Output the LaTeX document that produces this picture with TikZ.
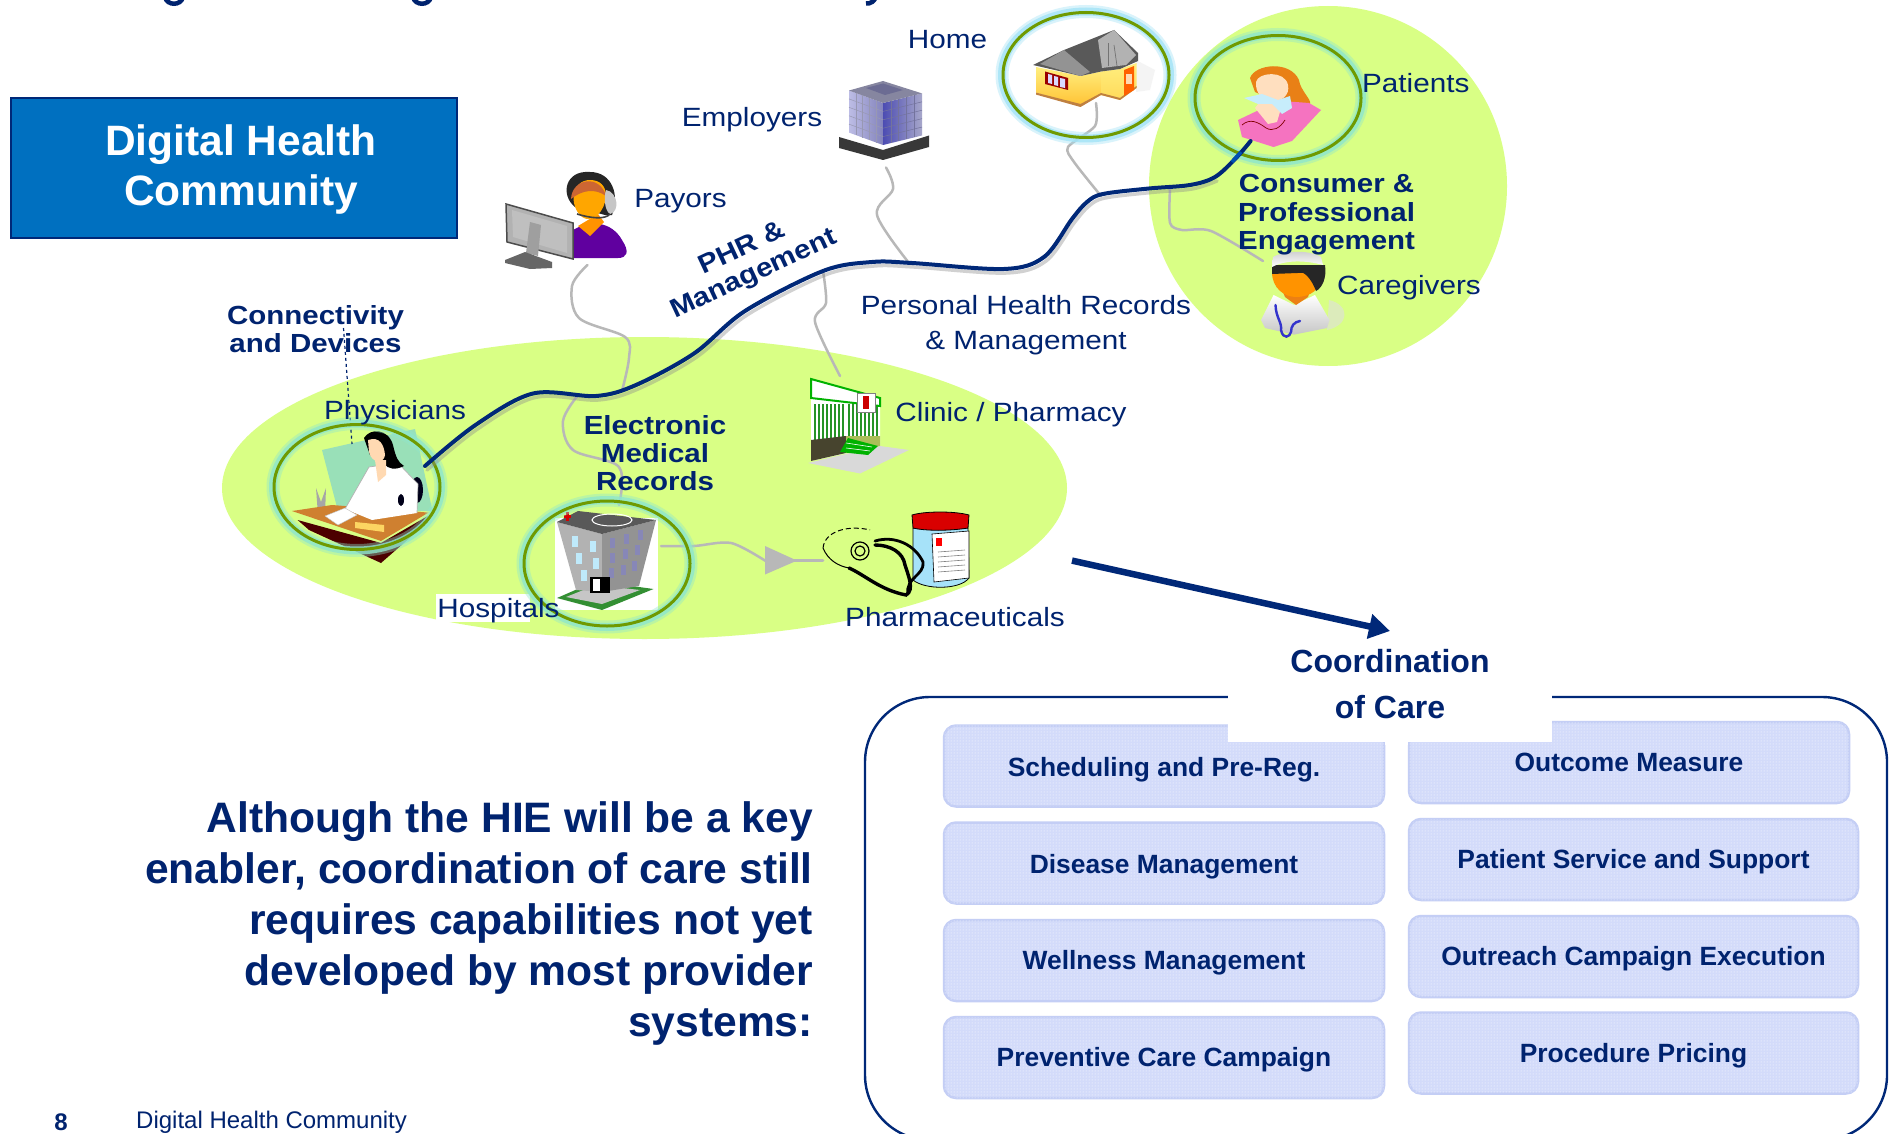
\documentclass[tikz,border=0pt]{standalone}
\usepackage{fontspec}
\setmainfont{Liberation Sans}
\newfontfamily\widefont[FakeStretch=1.125]{Liberation Sans}
\usetikzlibrary{shapes.geometric,patterns,arrows.meta,calc}
\definecolor{navy}{HTML}{00236F}
\definecolor{linenavy}{HTML}{002878}
\definecolor{limefill}{HTML}{D9FF85}
\definecolor{boxblue}{HTML}{0070C0}
\definecolor{wiregray}{HTML}{B8B8B8}
\definecolor{ringolive}{HTML}{6F9A00}
\definecolor{carefill}{HTML}{D3DBFA}
\definecolor{careedge}{HTML}{C4CEF5}
\definecolor{mintglow}{HTML}{8FE6CC}
\definecolor{skyglow}{HTML}{A2E3F6}
\tikzset{
  zone/.style={ellipse,fill=limefill,draw=none,inner sep=0pt},
  ringbase/.style={ellipse,draw=ringolive,line width=3pt,inner sep=0pt,minimum width=166pt,minimum height=125pt,fill=none},
  ringglow/.style={ellipse,draw=#1,line width=13pt,inner sep=0pt,minimum width=168pt,minimum height=127pt,fill=none,opacity=.4},
  ringcore/.style={ellipse,draw=#1,line width=8pt,inner sep=0pt,minimum width=168pt,minimum height=127pt,fill=none,opacity=.8},
  wire/.style={draw=wiregray,line width=2.5pt,line cap=round,line join=round},
  lbl/.style={text=navy,font=\widefont\fontsize{26.4}{35}\selectfont,inner sep=0pt,align=center},
  blbl/.style={text=navy,font=\widefont\bfseries\fontsize{26.2}{28.5}\selectfont,inner sep=0pt,align=center},
  carebox/.style={draw=careedge,line width=2.5pt,fill=carefill,rounded corners=12pt,inner sep=0pt,
    text=navy,font=\bfseries\fontsize{26.4}{30}\selectfont,minimum height=81pt,text height=24pt,text depth=5pt,
    postaction={pattern=dots,pattern color=white}},
}
\begin{document}
\begin{tikzpicture}[x=1pt,y=-1pt]
\useasboundingbox (0,0) rectangle (1889,1134);
\clip (0,0) rectangle (1889,1134);
\fill[white] (0,0) rectangle (1889,1134);

% clipped title descenders at the top edge
\draw[navy,line width=4.5pt] (165,-3) .. controls (167,6) and (181,6) .. (183,-3);
\draw[navy,line width=4.5pt] (413,-3) .. controls (415,6) and (429,6) .. (431,-3);
\draw[navy,line width=4.5pt] (866,3.5) .. controls (871,4) and (874,1) .. (876,-3);

% zones
\node[zone,minimum width=845pt,minimum height=302pt] (emrzone) at (644.5,488) {};
\node[zone,minimum width=358pt,minimum height=360pt] (consumerzone) at (1328,186) {};

% title box
\node[draw=linenavy,line width=2pt,fill=boxblue,minimum width=446pt,minimum height=139pt,inner sep=0pt] (title) at (233.5,168) {};
\node[text=white,font=\bfseries\fontsize{42.5}{50.5}\selectfont,align=center,inner sep=0pt] (titletext) at (241,169.5) {Digital Health\\Community};

% named ends of the connectors
\coordinate (curveA) at (425,466);
\coordinate (curveB) at (1250.6,141);
\coordinate (payorEnd) at (587.5,265);
\coordinate (payorJoin) at (622,391);
\coordinate (emplEnd) at (886,167.5);
\coordinate (emplJoin) at (909,263);
\coordinate (homeEnd) at (1096,103);
\coordinate (homeJoin) at (1101,196);
\coordinate (careEnd) at (1263,261);
\coordinate (careJoin) at (1170,188.5);
\coordinate (clinicEnd) at (840,376);
\coordinate (clinicJoin) at (823,271);
\coordinate (hospEnd) at (619,505);
\coordinate (hospJoin) at (578,395);
\coordinate (hospOut) at (661,546);
\coordinate (pharmIn) at (823,560.6);
\coordinate (triBase) at (765,560.6);
\coordinate (connTop) at (343.5,328);
\coordinate (connEnd) at (352,444);
\coordinate (flowA) at (1072,560.6);
\coordinate (flowB) at (1390,631);

% ---------- icons ----------
% employers building
\fill[black!78] (839,137) -- (883,150) -- (929,135.5) -- (929,147) -- (883,160) -- (839,148) -- cycle;
\shade[left color=blue!20!white!80!gray,right color=blue!30!gray!75] (849,90.5) -- (883,103) -- (883,145) -- (849,132.6) -- cycle;
\shade[left color=blue!40!gray,right color=blue!25!gray!55] (883,103) -- (922,93.4) -- (922,135.5) -- (883,145) -- cycle;
\fill[blue!12!gray!85] (849,90.5) -- (883,81) -- (922,93.4) -- (883,103) -- cycle;
\fill[blue!15!gray] (866,88) -- (883,83.5) -- (903,90) -- (885,95) -- cycle;
\foreach \t in {.2,.4,.6,.8}{
  \draw[blue!15!gray!70,line width=.5pt] ($(849,90.5)!\t!(849,132.6)$) -- ($(883,103)!\t!(883,145)$);
  \draw[blue!30!black!55,line width=.5pt] ($(883,103)!\t!(883,145)$) -- ($(922,93.4)!\t!(922,135.5)$);
  \draw[blue!15!gray!70,line width=.5pt] ($(849,90.5)!\t!(883,103)$) -- ($(849,132.6)!\t!(883,145)$);
  \draw[blue!30!black!55,line width=.5pt] ($(883,103)!\t!(922,93.4)$) -- ($(883,145)!\t!(922,135.5)$);
}
% payor
\fill[black!85] (575,207) .. controls (560,195) and (565,170) .. (590,172) .. controls (612,172) and (620,195) .. (612,215) -- (605,215) -- cycle;
\fill[violet!75!blue] (570,232) .. controls (590,218) and (612,222) .. (622,240) .. controls (630,252) and (627,258) .. (618,258) -- (572,258) -- cycle;
\fill[orange!85!yellow] (578,226) -- (598,214) -- (604,222) -- (590,236) -- cycle;
\fill[orange!70!yellow] (590,180) .. controls (572,180) and (568,205) .. (582,217) .. controls (592,224) and (605,212) .. (606,196) .. controls (606,186) and (600,180) .. (590,180) -- cycle;
\fill[brown!80!red] (571,199) .. controls (572,178) and (600,174) .. (606,196) .. controls (595,188) and (582,190) .. (571,199) -- cycle;
\fill[gray!45] (606,190) .. controls (618,192) and (620,212) .. (610,214) .. controls (604,210) and (604,196) .. (606,190) -- cycle;
\draw[black!75,line width=1.6pt] (610,214) .. controls (605,220) and (590,218) .. (577,214);
\fill[gray!60] (506,204) -- (573,223) -- (573,259) -- (507,242) -- cycle;
\draw[black!70,line width=1.5pt] (506,204) -- (573,223) -- (573,259) -- (507,242) -- cycle;
\fill[gray!50] (512,210) -- (567,226) -- (567,253) -- (513,237) -- cycle;
\fill[gray!75] (530,222) -- (541,225) -- (538,256) -- (526,253) -- cycle;
\fill[black!60] (505,260) -- (525,252) -- (552,262) -- (552,268) -- (530,269) -- (505,263) -- cycle;
% clinic
\fill[gray!30] (808,463) -- (860,473.5) -- (909,450) -- (880,446) -- cycle;
\fill[white] (811,398) -- (880,406) -- (880,446) -- (811,461) -- cycle;
\foreach \x in {814,818,822,826,830,834,838,842,848,852,856,860,864,868,872,876}{\fill[green!50!black!85] (\x,404) rectangle ++(1.8,36);}
\fill[black!65!olive] (811,440) -- (846,436) -- (846,453) -- (811,461) -- cycle;
\fill[olive!70!green!60] (846,436) -- (880,436) -- (880,446) -- (846,453) -- cycle;
\fill[green!70!black] (848,438) -- (878,446) -- (868,455) -- (840,452) -- cycle;
\draw[white,line width=.6pt] (846,443) -- (872,447);\draw[white,line width=.6pt] (846,448) -- (870,451);
\fill[white,draw=green!70!black,line width=2pt] (811,379) -- (880,398) -- (880,406) -- (811,398) -- cycle;
\fill[white,draw=gray,line width=.5pt] (857,393) rectangle (875,412);
\fill[red!80!black] (863,396) rectangle (869,409);
% physician
\fill[green!40!teal!40] (322,450) -- (415,429) -- (432.5,511) -- (338,511) -- cycle;
\fill[black!90!blue] (417,490) ellipse[x radius=6,y radius=13];
\fill[gray!70] (316,488) -- (321,502) -- (326,488) -- (325,515) -- (318,515) -- cycle;
\fill[red!30!black] (297.6,520) -- (381,543) -- (428.5,515.6) -- (428,522) -- (381,563) -- (309,530) -- cycle;
\fill[brown!75!orange] (292,511) -- (332,505) -- (428.5,512.6) -- (381,541) -- cycle;
\fill[white] (345,509) -- (369,467) -- (398,463) -- (418,484) -- (417,513) -- (372,520) -- cycle;
\draw[gray!60,line width=.7pt] (345,509) -- (369,467) -- (398,463) -- (418,484) -- (417,513);
\fill[black!90!blue] (401,500) ellipse[x radius=3,y radius=6];
\fill[black] (364,438) .. controls (370,428) and (388,428) .. (393,445) .. controls (396,458) and (398,462) .. (404,466) .. controls (396,470) and (388,470) .. (384,463) -- (370,455) -- cycle;
\fill[orange!30!white] (368,440) .. controls (380,436) and (384,445) .. (385,455) .. controls (384,464) and (372,464) .. (369,452) -- cycle;
\fill[orange!30!white] (375,460) -- (386,460) -- (386,475) -- (378,482) -- cycle;
\fill[white,draw=gray!50,line width=.4pt] (325,516) -- (345,508) -- (357,515) -- (338,525) -- cycle;
\fill[yellow!50!orange!60] (355,522) -- (384,525) -- (384,532) -- (355,528) -- cycle;
% hospital white backing and its picture
\fill[white] (436,594) rectangle (530,622);
\fill[white] (555,518) rectangle (658,610);
\fill[green!45!black!80] (557,598) -- (596,581) -- (653.5,589) -- (602,610) -- cycle;
\fill[gray!45] (566,597) -- (596,585) -- (640,590) -- (602,604) -- cycle;
\fill[gray!60] (557,522) -- (602,534) -- (602,592) -- (576,590) -- cycle;
\fill[gray!85] (602,534) -- (656,520) -- (639,586) -- (602,592) -- cycle;
\fill[black!65] (557,522) -- (578,511) -- (656,520) -- (602,534) -- cycle;
\draw[white,line width=1pt] (612,520) ellipse[x radius=20,y radius=6];
\foreach \xa/\ya in {572/536,590/541,576/553,593/558,581/570}{\fill[cyan!25!white] (\xa,\ya) rectangle ++(6,11);}
\foreach \xa/\ya in {610/538,624/534,638/530,610/553,623/549,635/545,609/568,621/565,632/561}{\fill[blue!25!gray!75] (\xa,\ya) rectangle ++(5,10);}
\fill[black] (590,577) rectangle (610,593);
\fill[white] (593,579) rectangle (600,591);
\fill[red!85!black] (564,515) rectangle (571,518);
\fill[red!85!black] (566,512) rectangle (569,521);
% pharmaceuticals
\fill[cyan!35!white,draw=black,line width=.8pt] (913,528) -- (968,528) -- (969,578) .. controls (960,590) and (925,590) .. (913,580) -- cycle;
\fill[red!85!black,draw=black,line width=.8pt] (912,515) .. controls (925,511) and (955,511) .. (969,515) -- (968,528) .. controls (950,531) and (925,531) .. (913,528) -- cycle;
\fill[white,draw=black,line width=.6pt] (932,534) -- (969,531) -- (969,578) -- (934,582) -- cycle;
\fill[red] (936,538) rectangle (942,546);
\foreach \yy in {552,557,562,567,572}{\draw[gray,line width=.6pt] (938,\yy) -- (965,\yy-2);}
\draw[black,line width=3.4pt,line cap=round] (849,568) .. controls (865,575) and (880,590) .. (906,595) .. controls (915,590) and (908,575) .. (905,565) .. controls (903,552) and (890,545) .. (875,545);
\draw[black,line width=2.8pt,line cap=round] (875,541) .. controls (895,535) and (915,545) .. (923,562) .. controls (925,575) and (905,578) .. (908,594);
\draw[black,line width=1.2pt] (860,551) circle[radius=9];
\draw[black,line width=1.2pt] (860,551) circle[radius=5];
\draw[black,line width=1pt,dash pattern=on 5pt off 3pt] (823,548) .. controls (825,530) and (850,525) .. (870,530);
\draw[black,line width=1pt] (823,548) .. controls (828,560) and (838,566) .. (849,568);
% house
\fill[gray!20,opacity=.4] (1136,60) -- (1155,70) -- (1150,90) -- (1136,92) -- cycle;
\shade[top color=orange!25!yellow!50,bottom color=orange!60!yellow!80] (1036,67) -- (1080.5,76) -- (1101,71.5) -- (1101,95) -- (1080.5,106) -- (1036,92.6) -- cycle;
\shade[top color=orange!25!yellow!50,bottom color=orange!45!yellow!65] (1101,71.5) -- (1120,69) -- (1136.5,63) -- (1136.5,88) -- (1120,100) -- (1101,95) -- cycle;
\fill[brown] (1036,92.6) -- (1080.5,104) -- (1101,93) -- (1120,98) -- (1136.5,86) -- (1136.5,88) -- (1120,100) -- (1101,95) -- (1080.5,107) -- (1036,94.6) -- cycle;
\fill[orange!75!red] (1124,70) -- (1134,66) -- (1134,90) -- (1124,96) -- cycle;
\fill[white!70!orange] (1126,74) rectangle (1132,84);
\fill[red!60!black] (1045,71.5) -- (1068,78) -- (1068,90) -- (1045,84) -- cycle;
\fill[white!85!blue] (1048,74) -- (1052,75) -- (1052,84) -- (1048,83) -- cycle;
\fill[white!85!blue] (1054,76) -- (1058,77) -- (1058,86) -- (1054,85) -- cycle;
\fill[white!85!blue] (1060,78) -- (1065,79) -- (1065,88) -- (1060,87) -- cycle;
\fill[black!65] (1033,65) -- (1064,50) -- (1114,30) -- (1138,53) -- (1138,61) -- (1120,69) -- (1101,71.5) -- (1080.5,76) -- cycle;
\fill[gray!85] (1064,50) -- (1090,72) -- (1080.5,76) -- (1040,64) -- cycle;
\fill[gray!60] (1098,40) -- (1114,30) -- (1136,55) -- (1126,65) -- (1102,68) -- cycle;
\draw[black!55,line width=.7pt] (1108,43) -- (1108,66);\draw[black!55,line width=.7pt] (1114,45) -- (1117,66);
% patient
\fill[orange!65!brown] (1250,78) .. controls (1255,64) and (1290,60) .. (1299,80) .. controls (1300,90) and (1312,100) .. (1310,104) -- (1285,105) -- (1255,92) -- cycle;
\fill[orange!25!white] (1256,82) .. controls (1258,72) and (1285,70) .. (1288,85) .. controls (1290,95) and (1282,102) .. (1270,102) .. controls (1262,100) and (1255,92) .. (1256,82) -- cycle;
\fill[magenta!55!white] (1238,120) -- (1259,110) -- (1282,101) -- (1309,103) -- (1321,110) -- (1292,141) -- (1273.5,147) -- (1242,137) -- cycle;
\fill[orange!25!white] (1255,108) -- (1262,99) -- (1282,105) -- (1277,122) -- (1268,124) -- cycle;
\fill[cyan!22!white] (1244,98) -- (1262,94) -- (1278,100) -- (1290,96) -- (1292,108) -- (1282,114) -- (1272,104) -- (1258,104) -- cycle;
\draw[red!50!black,line width=.7pt] (1242,125) .. controls (1250,118) and (1258,122) .. (1266,128) .. controls (1273,132) and (1280,128) .. (1285,120);
% caregiver
\fill[gray!25,opacity=.6] (1329,300) .. controls (1350,305) and (1350,325) .. (1327,330) -- cycle;
\shade[top color=white,bottom color=gray!45] (1261,320) -- (1273.5,295) -- (1294,305) -- (1315,295) -- (1329.5,320) -- (1327,328) -- (1294,334.6) -- (1265,328) -- cycle;
\fill[orange!70!brown] (1278,280) -- (1314,280) -- (1308,297) -- (1296,305) -- (1285,297) -- cycle;
\fill[orange!85!yellow] (1272,272) -- (1322,272) .. controls (1322,290) and (1310,297) .. (1296,297) .. controls (1284,297) and (1272,288) .. (1272,272) -- cycle;
\fill[black!85] (1300,265) -- (1325,265) .. controls (1327,278) and (1322,288) .. (1316,291) .. controls (1312,280) and (1305,272) .. (1300,272) -- cycle;
\fill[black!85] (1272,265) -- (1322,265) -- (1323,272) -- (1272,274) -- cycle;
\shade[top color=gray!40,bottom color=white] (1272,267) -- (1273,257) .. controls (1285,250) and (1310,250) .. (1321,257) -- (1323,265) .. controls (1305,260) and (1285,260) .. (1272,267) -- cycle;
\draw[blue!60!gray,line width=2.4pt,line cap=round] (1275.5,305) .. controls (1276,318) and (1282,322) .. (1281,330) .. controls (1283,340) and (1290,337) .. (1291,332) .. controls (1291,326) and (1294,322) .. (1300,321);

% ---------- connectors ----------
\draw[wire] plot[smooth,tension=.55] coordinates {(payorEnd) (572,286) (579,318) (625,337) (629,358) (payorJoin)};
\draw[wire] plot[smooth,tension=.55] coordinates {(emplEnd) (893,189) (877,215) (emplJoin)};
\draw[wire] plot[smooth,tension=.45] coordinates {(homeEnd) (1095,126) (1068,147) (1074,162) (homeJoin)};
\draw[wire] plot[smooth,tension=.45] coordinates {(careJoin) (1170,223) (1182,230) (1211,231) (careEnd)};
\draw[wire] plot[smooth,tension=.5] coordinates {(clinicJoin) (826,303) (815,322) (clinicEnd)};
\draw[wire] plot[smooth,tension=.55] coordinates {(hospJoin) (563,421) (573,450) (619,467) (hospEnd)};
\draw[wire] plot[smooth,tension=.5] coordinates {(hospOut) (694,546) (731,543) (triBase)};
\draw[wire] (triBase) -- (pharmIn);
\fill[wiregray] (765,546) -- (797,560.6) -- (765,574.5) -- cycle;
\draw[navy,line width=1.2pt,dashed] (connTop) -- (connEnd);

% rings
\node[ringglow=mintglow] at (357,487) {};
\node[ringglow=mintglow] at (607,563.5) {};
\node[ringglow=skyglow] at (1086,75) {};
\node[ringglow=mintglow] at (1278,98) {};
\node[ringcore=mintglow] at (357,487) {};
\node[ringcore=mintglow] at (607,563.5) {};
\node[ringcore=skyglow] at (1086,75) {};
\node[ringcore=mintglow] at (1278,98) {};
\node[ringbase] (physring) at (357,487) {};
\node[ringbase] (hospring) at (607,563.5) {};
\node[ringbase] (homering) at (1086,75) {};
\node[ringbase] (patring) at (1278,98) {};

% main PHR curve
\draw[black!45,opacity=.4,line width=3.5pt,line cap=round] plot[smooth,tension=.55] coordinates {(427,470) (477.5,429) (535,397.5) (598,400) (638,389) (696,357.5) (747,315) (825,275) (874,266) (914,267) (1006,273) (1046,261) (1074,223) (1089,206) (1105,198) (1151,192.5) (1192,189) (1217,181)};
\draw[linenavy,line width=4pt,line cap=round] plot[smooth,tension=.55] coordinates {(curveA) (475.5,425) (533,393.5) (596,396) (636,385) (694,353.5) (745,311) (823,271) (872,262) (912,263) (1004,269) (1044,257) (1072,219) (1087,202) (1103,194) (1149,188.5) (1190,185) (1215,177) (1236,158) (curveB)};
\draw[blue!55!cyan!70!black,line width=3.6pt] (1232,162) -- (1241,152);

% flow arrow
\draw[linenavy,line width=6.5pt,-{Triangle[length=21pt,width=24pt]}] (flowA) -- (flowB);

% care frame
\node[draw=linenavy,line width=2.4pt,rounded corners=65pt,minimum width=1022pt,minimum height=443pt,inner sep=0pt,fill=none] (careframe) at (1376,918.5) {};
% care boxes
\node[carebox,minimum width=440pt,text height=25pt] (b1) at (1164,766) {Scheduling and Pre-Reg.};
\node[carebox,minimum width=440pt,text height=26pt] (b2) at (1164,863) {Disease Management};
\node[carebox,minimum width=440pt,text height=23pt] (b3) at (1164,960.5) {Wellness Management};
\node[carebox,minimum width=440pt,text height=22pt] (b4) at (1164,1057.5) {Preventive Care Campaign};
\node[carebox,minimum width=440pt,text height=23.5pt] (b5) at (1629,762.5) {Outcome Measure};
\node[carebox,minimum width=449pt,text height=23.5pt] (b6) at (1633.5,859.5) {Patient Service and Support};
\node[carebox,minimum width=449pt,text height=23.5pt] (b7) at (1633.5,956.5) {Outreach Campaign Execution};
\node[carebox,minimum width=449pt,text height=24.5pt] (b8) at (1633.5,1053) {Procedure Pricing};
% white patch behind the heading
\fill[white] (1228,690) rectangle (1552,742);
\fill[white] (1384.5,735) rectangle (1407.5,745);
\node[text=navy,font=\bfseries\fontsize{32}{46}\selectfont,align=center,inner sep=0pt] (coord) at (1390,684) {Coordination\\of Care};

% labels
\node[lbl] (lhome) at (947.5,40) {Home};
\node[lbl] (lempl) at (752,119.5) {Employers};
\node[lbl] (lpay) at (680.5,201) {Payors};
\node[lbl] (lpat) at (1415.8,83) {Patients};
\node[lbl] (lcare) at (1409,287.5) {Caregivers};
\node[lbl] (lphys) at (395,412.2) {Physicians};
\node[lbl] (lhosp) at (498.5,610.4) {Hospitals};
\node[lbl] (lpharm) at (955,617) {Pharmaceuticals};
\node[lbl] (lclin) at (1011,414.4) {Clinic / Pharmacy};
\node[lbl] (lpers) at (1026,325) {Personal Health Records\\\& Management};
\node[blbl,font=\widefont\bfseries\fontsize{26.2}{28}\selectfont] (lconn) at (315.5,328.8) {Connectivity\\and Devices};
\node[blbl,font=\widefont\bfseries\fontsize{26.2}{28}\selectfont] (lemr) at (655,452.8) {Electronic\\Medical\\Records};
\node[blbl] (lcons) at (1326.6,215) {Consumer \&\\Professional\\Engagement};
\node[blbl,rotate=25,font=\widefont\bfseries\fontsize{26.2}{28}\selectfont] (lphr) at (748.5,262) {PHR \&\\Management};

% body text
\node[text=navy,font=\bfseries\fontsize{42.6}{51}\selectfont,align=right,anchor=east,inner sep=0pt] (body) at (813,923.5) {Although the HIE will be a key\\enabler, coordination of care still\\requires capabilities not yet\\developed by most provider\\systems:};
% footer
\node[text=navy,font=\bfseries\fontsize{24}{28}\selectfont,inner sep=0pt] (pageno) at (61,1122) {8};
\node[text=navy,font=\fontsize{24}{28}\selectfont,inner sep=0pt,anchor=west] (footer) at (136,1122) {Digital Health Community};
\end{tikzpicture}
\end{document}
